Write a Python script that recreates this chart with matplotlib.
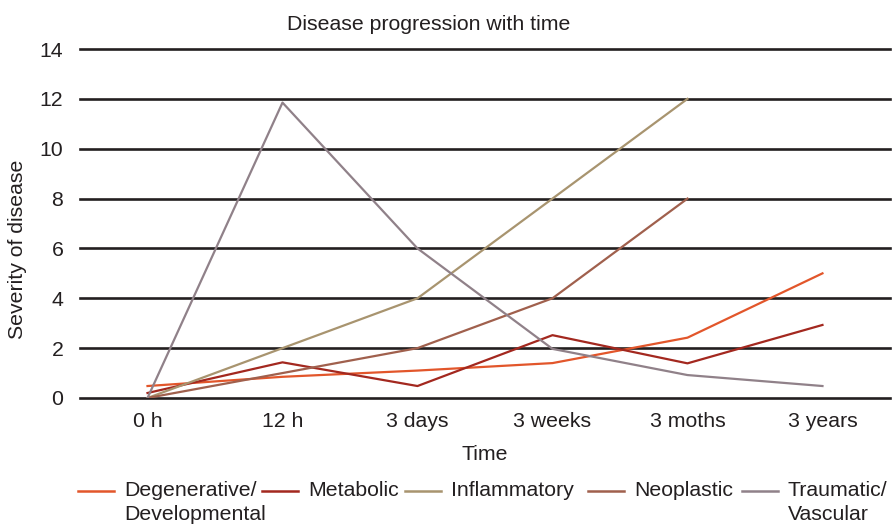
import matplotlib.pyplot as plt
from matplotlib.lines import Line2D

plt.rcParams["font.family"] = ["Liberation Sans", "DejaVu Sans"]

times = ["0 h", "12 h", "3 days", "3 weeks", "3 moths", "3 years"]
degenerative = [0.48, 0.85, 1.1, 1.4, 2.42, 5.0]
metabolic = [0.2, 1.43, 0.48, 2.52, 1.39, 2.93]
inflammatory = [0, 2, 4, 8, 12]
neoplastic = [0, 1, 2, 4, 8]
traumatic = [0, 11.85, 6, 1.97, 0.92, 0.48]

series = [
    ("Degenerative/\nDevelopmental", degenerative, "#e2562b"),
    ("Metabolic", metabolic, "#a3281f"),
    ("Inflammatory", inflammatory, "#a8946f"),
    ("Neoplastic", neoplastic, "#a0604d"),
    ("Traumatic/\nVascular", traumatic, "#908189"),
]

FS = 15.3
TXT = "#231f20"

fig = plt.figure(figsize=(8.93, 5.27), dpi=100)
ax = fig.add_axes([0.0896, 0.2448, 0.907, 0.6622])

for label, vals, color in series:
    ax.plot(range(len(vals)), vals, color=color, lw=1.6, zorder=3)

ax.set_xlim(-0.5, len(times) - 0.5)
ax.set_ylim(0, 14)
ax.set_yticks(range(0, 15, 2))
ax.set_xticks(range(len(times)))
ax.set_xticklabels(times)
ax.tick_params(length=0, labelsize=FS, colors=TXT)
ax.tick_params(axis="y", pad=12)
ax.tick_params(axis="x", pad=10)
for y in range(0, 15, 2):
    ax.axhline(y, color=TXT, lw=1.9, zorder=2, clip_on=False)
for s in ax.spines.values():
    s.set_visible(False)

ax.set_xlabel("Time", fontsize=FS, color=TXT, labelpad=10)
ax.set_ylabel("Severity of disease", fontsize=FS, color=TXT)
ax.yaxis.set_label_coords(-0.065, 0.427)
ax.set_title("Disease progression with time", fontsize=FS, color=TXT,
             x=0.431, pad=14)

# legend drawn by hand so the handle lines up with the first text line
W, H = 893, 527
hx = [78, 262, 405, 588, 742]
for (label, vals, color), x0 in zip(series, hx):
    fig.add_artist(Line2D([x0 / W, (x0 + 36) / W], [1 - 491 / H] * 2,
                          color=color, lw=1.8, transform=fig.transFigure))
    lines = label.split("\n")
    for i, part in enumerate(lines):
        fig.text((x0 + 46) / W, 1 - (491 + 24 * i) / H, part, fontsize=FS,
                 color=TXT, va="center", ha="left")

fig.savefig("out.png", dpi=100)
